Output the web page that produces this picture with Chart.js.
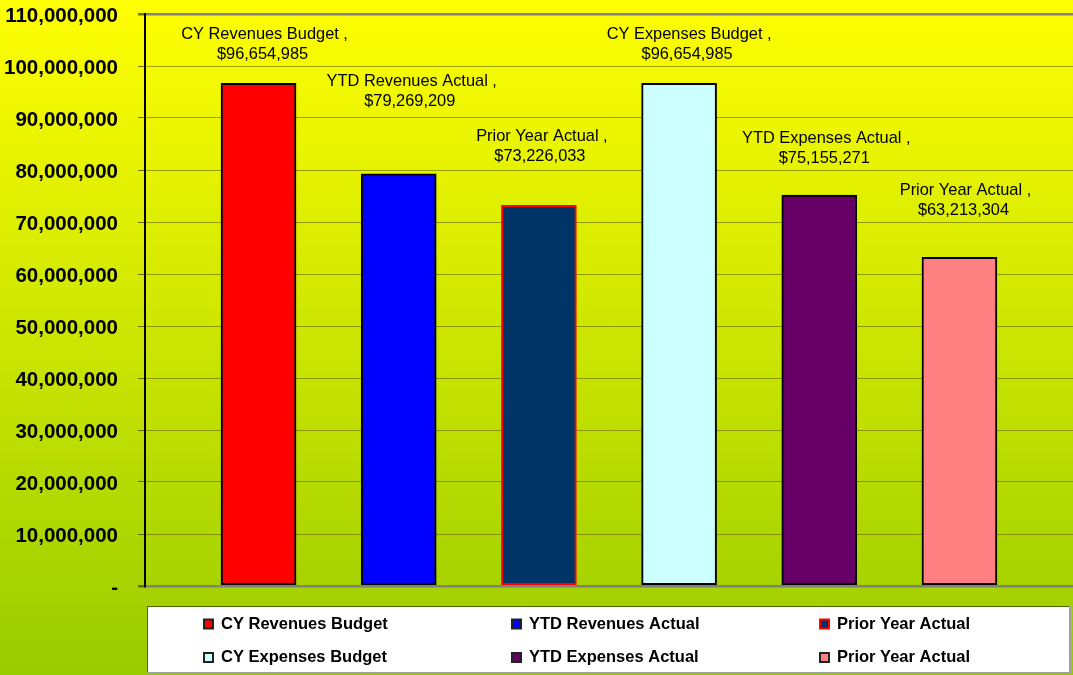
<!DOCTYPE html>
<html>
<head>
<meta charset="utf-8">
<script src="https://cdn.jsdelivr.net/npm/chart.js@4"></script>
<style>
  html, body { margin: 0; padding: 0; }
  #wrap { width: 1073px; height: 675px; position: relative; }
</style>
</head>
<body>
<div id="wrap"><canvas id="chart"></canvas></div>
<script>
const seriesNames = ['CY Revenues Budget', 'YTD Revenues Actual', 'Prior Year Actual',
                     'CY Expenses Budget', 'YTD Expenses Actual', 'Prior Year Actual']
const seriesValues = [96654985, 79269209, 73226033, 96654985, 75155271, 63213304]
const yMin = 0
const yMax = 110000000
const yStep = 10000000

const fillColors = ['#FF0000', '#0000FF', '#003366', '#CCFFFF', '#660066', '#FF8080']
const edgeColors = ['#000000', '#000000', '#FF0000', '#000000', '#000000', '#000000']
// hand placed data labels, like the original sheet
const labelDx = [6, 13, 3, 10, 7, 6]
const labelDy = [24, 68, 44, 24, 32, 42]

const fontFamily = '"Liberation Sans", Arial, sans-serif'

const bgPlugin = {
  id: 'bg',
  beforeDraw (chart) {
    const c = chart.ctx
    const g = c.createLinearGradient(0, 0, 0, chart.height)
    g.addColorStop(0, '#FFFF00')
    g.addColorStop(1, '#99CC00')
    c.save()
    c.fillStyle = g
    c.fillRect(0, 0, chart.width, chart.height)
    c.restore()
  }
}

const labelPlugin = {
  id: 'barLabels',
  afterDatasetsDraw (chart) {
    const c = chart.ctx
    c.save()
    c.font = '16.4px ' + fontFamily
    c.fillStyle = '#000'
    c.textAlign = 'center'
    c.textBaseline = 'alphabetic'
    chart.data.datasets.forEach((ds, i) => {
      const el = chart.getDatasetMeta(i).data[0]
      if (!el) return
      const x = el.x + labelDx[i]
      const y = el.y - labelDy[i]
      c.fillText(ds.label + ' ,', x, y - 20)
      c.fillText('$' + ds.data[0].y.toLocaleString('en-US'), x - 2, y)
    })
    c.restore()
  }
}

const legendPlugin = {
  id: 'gridLegend',
  afterDraw (chart) {
    const c = chart.ctx
    const a = chart.chartArea
    const left = a.left + 2
    const top = a.bottom + 20
    const w = 923
    const h = 67
    c.save()
    c.fillStyle = '#FFFFFF'
    c.fillRect(left, top, w, h)
    c.strokeStyle = '#4D6600'
    c.lineWidth = 1
    c.strokeRect(left + 0.5, top + 0.5, w - 1, h - 1)
    c.strokeStyle = '#A0A0A0'
    c.lineWidth = 2
    c.beginPath()
    c.moveTo(left, top + h)
    c.lineTo(left + w, top + h)
    c.moveTo(left + w, top)
    c.lineTo(left + w, top + h)
    c.stroke()

    c.font = 'bold 16.5px ' + fontFamily
    c.textAlign = 'left'
    c.textBaseline = 'middle'
    chart.data.datasets.forEach((ds, i) => {
      const col = i % 3
      const row = Math.floor(i / 3)
      const mx = left + 57 + col * 308
      const my = top + 18 + row * 33.5
      c.fillStyle = ds.backgroundColor
      c.fillRect(mx, my - 4.5, 9, 9)
      c.strokeStyle = ds.borderColor === '#000000' ? '#222' : ds.borderColor
      c.lineWidth = 2
      c.strokeRect(mx, my - 4.5, 9, 9)
      c.fillStyle = '#000'
      c.fillText(ds.label, mx + 17, my)
    })
    c.restore()
  }
}

const datasets = seriesNames.map((name, i) => ({
  label: name,
  data: [{ x: i + 1, y: seriesValues[i] }],
  backgroundColor: fillColors[i],
  borderColor: edgeColors[i],
  borderWidth: 2,
  borderSkipped: false,
  barThickness: 75,
  grouped: false
}))

const isEdge = (ctx) => ctx.tick && (ctx.tick.value === yMin || ctx.tick.value === yMax)

const chart = new Chart(document.getElementById('chart').getContext('2d'), {
  type: 'bar',
  data: { datasets: datasets },
  plugins: [bgPlugin, labelPlugin, legendPlugin],
  options: {
    responsive: true,
    maintainAspectRatio: false,
    animation: false,
    layout: {
      padding: { left: 5, top: 14, right: 0, bottom: 89 }
    },
    scales: {
      x: {
        type: 'linear',
        min: 0.19,
        max: 6.81,
        offset: false,
        display: false
      },
      y: {
        min: yMin,
        max: yMax,
        afterFit (scale) {
          scale.width = 140
          // labels may overflow the plot top a bit, as in the original
          scale.paddingTop = 0
          scale.paddingBottom = 0
        },
        border: { display: true, color: '#000', width: 2 },
        grid: {
          tickLength: 7,
          color: (ctx) => isEdge(ctx) ? '#808080' : 'rgba(100,100,0,0.6)',
          lineWidth: (ctx) => isEdge(ctx) ? 2.5 : 1,
          tickColor: 'rgba(80,80,0,0.8)'
        },
        ticks: {
          stepSize: yStep,
          padding: 20,
          labelOffset: 2,
          color: '#000',
          font: { family: fontFamily, size: 20.5, weight: 'bold' },
          callback: function (value) {
            if (value === 0) return '-'
            return value.toLocaleString('en-US')
          }
        }
      }
    },
    plugins: {
      legend: { display: false },
      tooltip: { enabled: false },
      title: { display: false }
    }
  }
})
</script>
</body>
</html>
